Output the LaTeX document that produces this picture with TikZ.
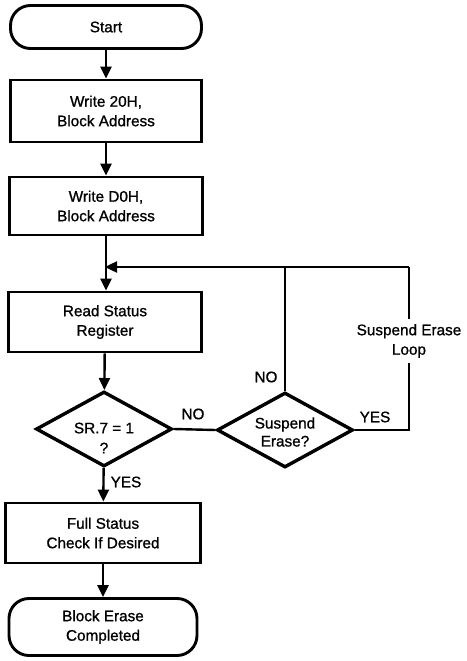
\documentclass[tikz,border=0pt]{standalone}
\usepackage{fontspec}
\setmainfont{Liberation Sans}[FakeBold=1]
\usetikzlibrary{shapes.geometric,arrows.meta}
\newcommand\diafont{\fontsize{15.3}{19.5}\selectfont}
\begin{document}
\begin{tikzpicture}[x=1pt,y=-1pt,
  every node/.style={font=\diafont},
  box/.style={draw, line width=2.9pt, minimum width=193pt, minimum height=60pt, align=center, inner sep=0pt},
  term/.style={box, rounded corners=20pt},
  dec/.style={diamond, draw, line width=3.4pt, aspect=1.85, minimum width=136pt, minimum height=75pt, inner sep=0pt},
  dtext/.style={align=center, inner sep=0pt},
  conn/.style={line width=2.4pt},
  arr/.style={conn, -{Triangle[length=12pt,width=11pt]}},
  lab/.style={inner sep=1pt}]
\useasboundingbox (0,0) rectangle (466,661);
\node[term, minimum width=191pt, minimum height=43pt] (start) at (106,27) {Start};
\node[box, minimum width=191pt, minimum height=62pt] (w20) at (106,111) {Write 20H,\\Block Address};
\node[box, minimum height=58pt] (wd0) at (106,206) {Write D0H,\\Block Address};
\node[box] (rsr) at (105,322) {Read Status\\Register};
\node[dec] (sr7) at (104,429) {};
\node[dtext, font=\fontsize{15.3}{20}\selectfont] (sr7t) at (104,438) {SR.7 = 1\\?};
\node[box, minimum width=195pt] (fsc) at (103,533) {Full Status\\Check If Desired};
\node[term, minimum width=188pt, minimum height=57pt] (bec) at (103,627) {Block Erase\\Completed};
\node[dec] (se) at (285,430) {};
\node[dtext, font=\fontsize{15.3}{18}\selectfont] (set) at (285,432) {Suspend\\Erase?};
\coordinate (junc) at (105,267);
\coordinate (c1) at (409,430);
\coordinate (c2) at (409,267);
\coordinate (top) at (285,267);
\node[align=center, inner xsep=0pt, inner ysep=5pt] (loop) at (409,341) {Suspend Erase\\Loop};
\node[lab] (no1) at (193,414) {NO};
\node[lab] (no2) at (266,377) {NO};
\node[lab] (yes2) at (375,417) {YES};
\node[lab] (yes1) at (126,482) {YES};
\draw[arr] (start) -- (w20);
\draw[arr] (w20) -- (wd0);
\draw[arr] (wd0) -- (rsr.north -| wd0);
\draw[arr] (rsr) -- (sr7);
\draw[arr] (sr7) -- (fsc);
\draw[arr] (fsc) -- (bec);
\draw[conn] (sr7.east) -- (se.west);
\draw[conn] (se.north) -- (top);
\draw[conn] (se.east) -- (c1) -- (loop);
\draw[conn] (loop) -- (c2);
\draw[arr] (c2) -- (junc);
\end{tikzpicture}
\end{document}
